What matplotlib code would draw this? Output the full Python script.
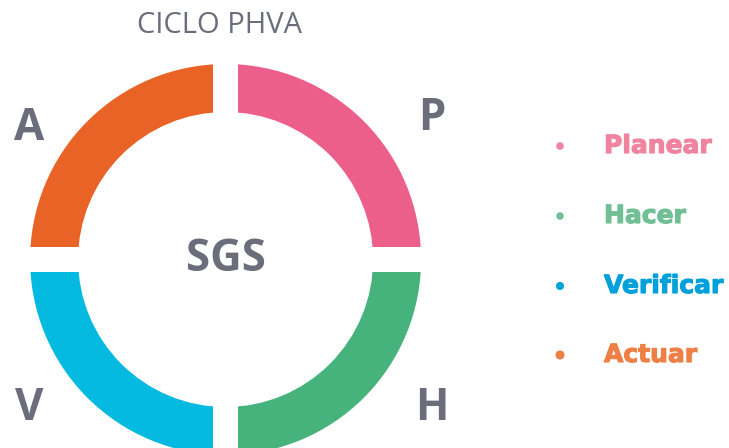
import matplotlib
matplotlib.use("Agg")
import matplotlib.pyplot as plt
from matplotlib.patches import Rectangle
import matplotlib.patheffects as pe

# ---- data ----
phases = ["Planear", "Hacer", "Verificar", "Actuar"]
letters = ["P", "H", "V", "A"]
values = [1, 1, 1, 1]
ring_colors = ["#EC5F8A", "#47B37C", "#05BAE0", "#E96226"]
legend_colors = ["#F0849E", "#71BF94", "#00A0DA", "#EE7F45"]
title = "CICLO PHVA"
center_label = "SGS"

W, H = 729, 448
fig = plt.figure(figsize=(W / 100, H / 100), dpi=100)
ax = fig.add_axes([0, 0, 1, 1])

gray = "#6B6E7A"
cx, cy = 225.6, H - 259.5
R_out, ring_w = 195.5, 48

ax.pie(values, colors=ring_colors, startangle=90, counterclock=False,
       center=(cx, cy), radius=R_out,
       wedgeprops=dict(width=ring_w, linewidth=0))

# gaps between the quadrants
gap = 25
ax.add_patch(Rectangle((cx - gap / 2, cy - R_out - 5), gap, 2 * R_out + 10,
                       facecolor="white", edgecolor="none", zorder=5))
ax.add_patch(Rectangle((cx - R_out - 5, cy - gap / 2), 2 * R_out + 10, gap,
                       facecolor="white", edgecolor="none", zorder=5))

ax.set_xlim(0, W)
ax.set_ylim(0, H)
ax.set_aspect("equal")
ax.axis("off")

ax.text(220, H - 25, title, ha="center", va="center", fontsize=21,
        family="Open Sans", color=gray)
ax.text(cx, cy, center_label, ha="center", va="center", fontsize=31.5,
        family="Open Sans", fontweight="bold", color=gray, zorder=6)

letter_pos = [(432, H - 118), (432, H - 408), (29, H - 408), (29, H - 128)]
for l, (x, y) in zip(letters, letter_pos):
    ax.text(x, y, l, ha="center", va="center", fontsize=31.5,
            family="Open Sans", fontweight="bold", color=gray)

leg_y = [146, 216, 286, 355]
dot_sizes = [30, 30, 34, 42]
for name, c, y, s in zip(phases, legend_colors, leg_y, dot_sizes):
    ax.scatter([560], [H - y], s=s, color=c, edgecolors="none", zorder=6)
    ax.text(604, H - y, name, ha="left", va="center", fontsize=18,
            family="DejaVu Sans", fontweight="bold", color=c,
            path_effects=[pe.withStroke(linewidth=0.8, foreground=c)])

fig.savefig("out.png", dpi=100)
